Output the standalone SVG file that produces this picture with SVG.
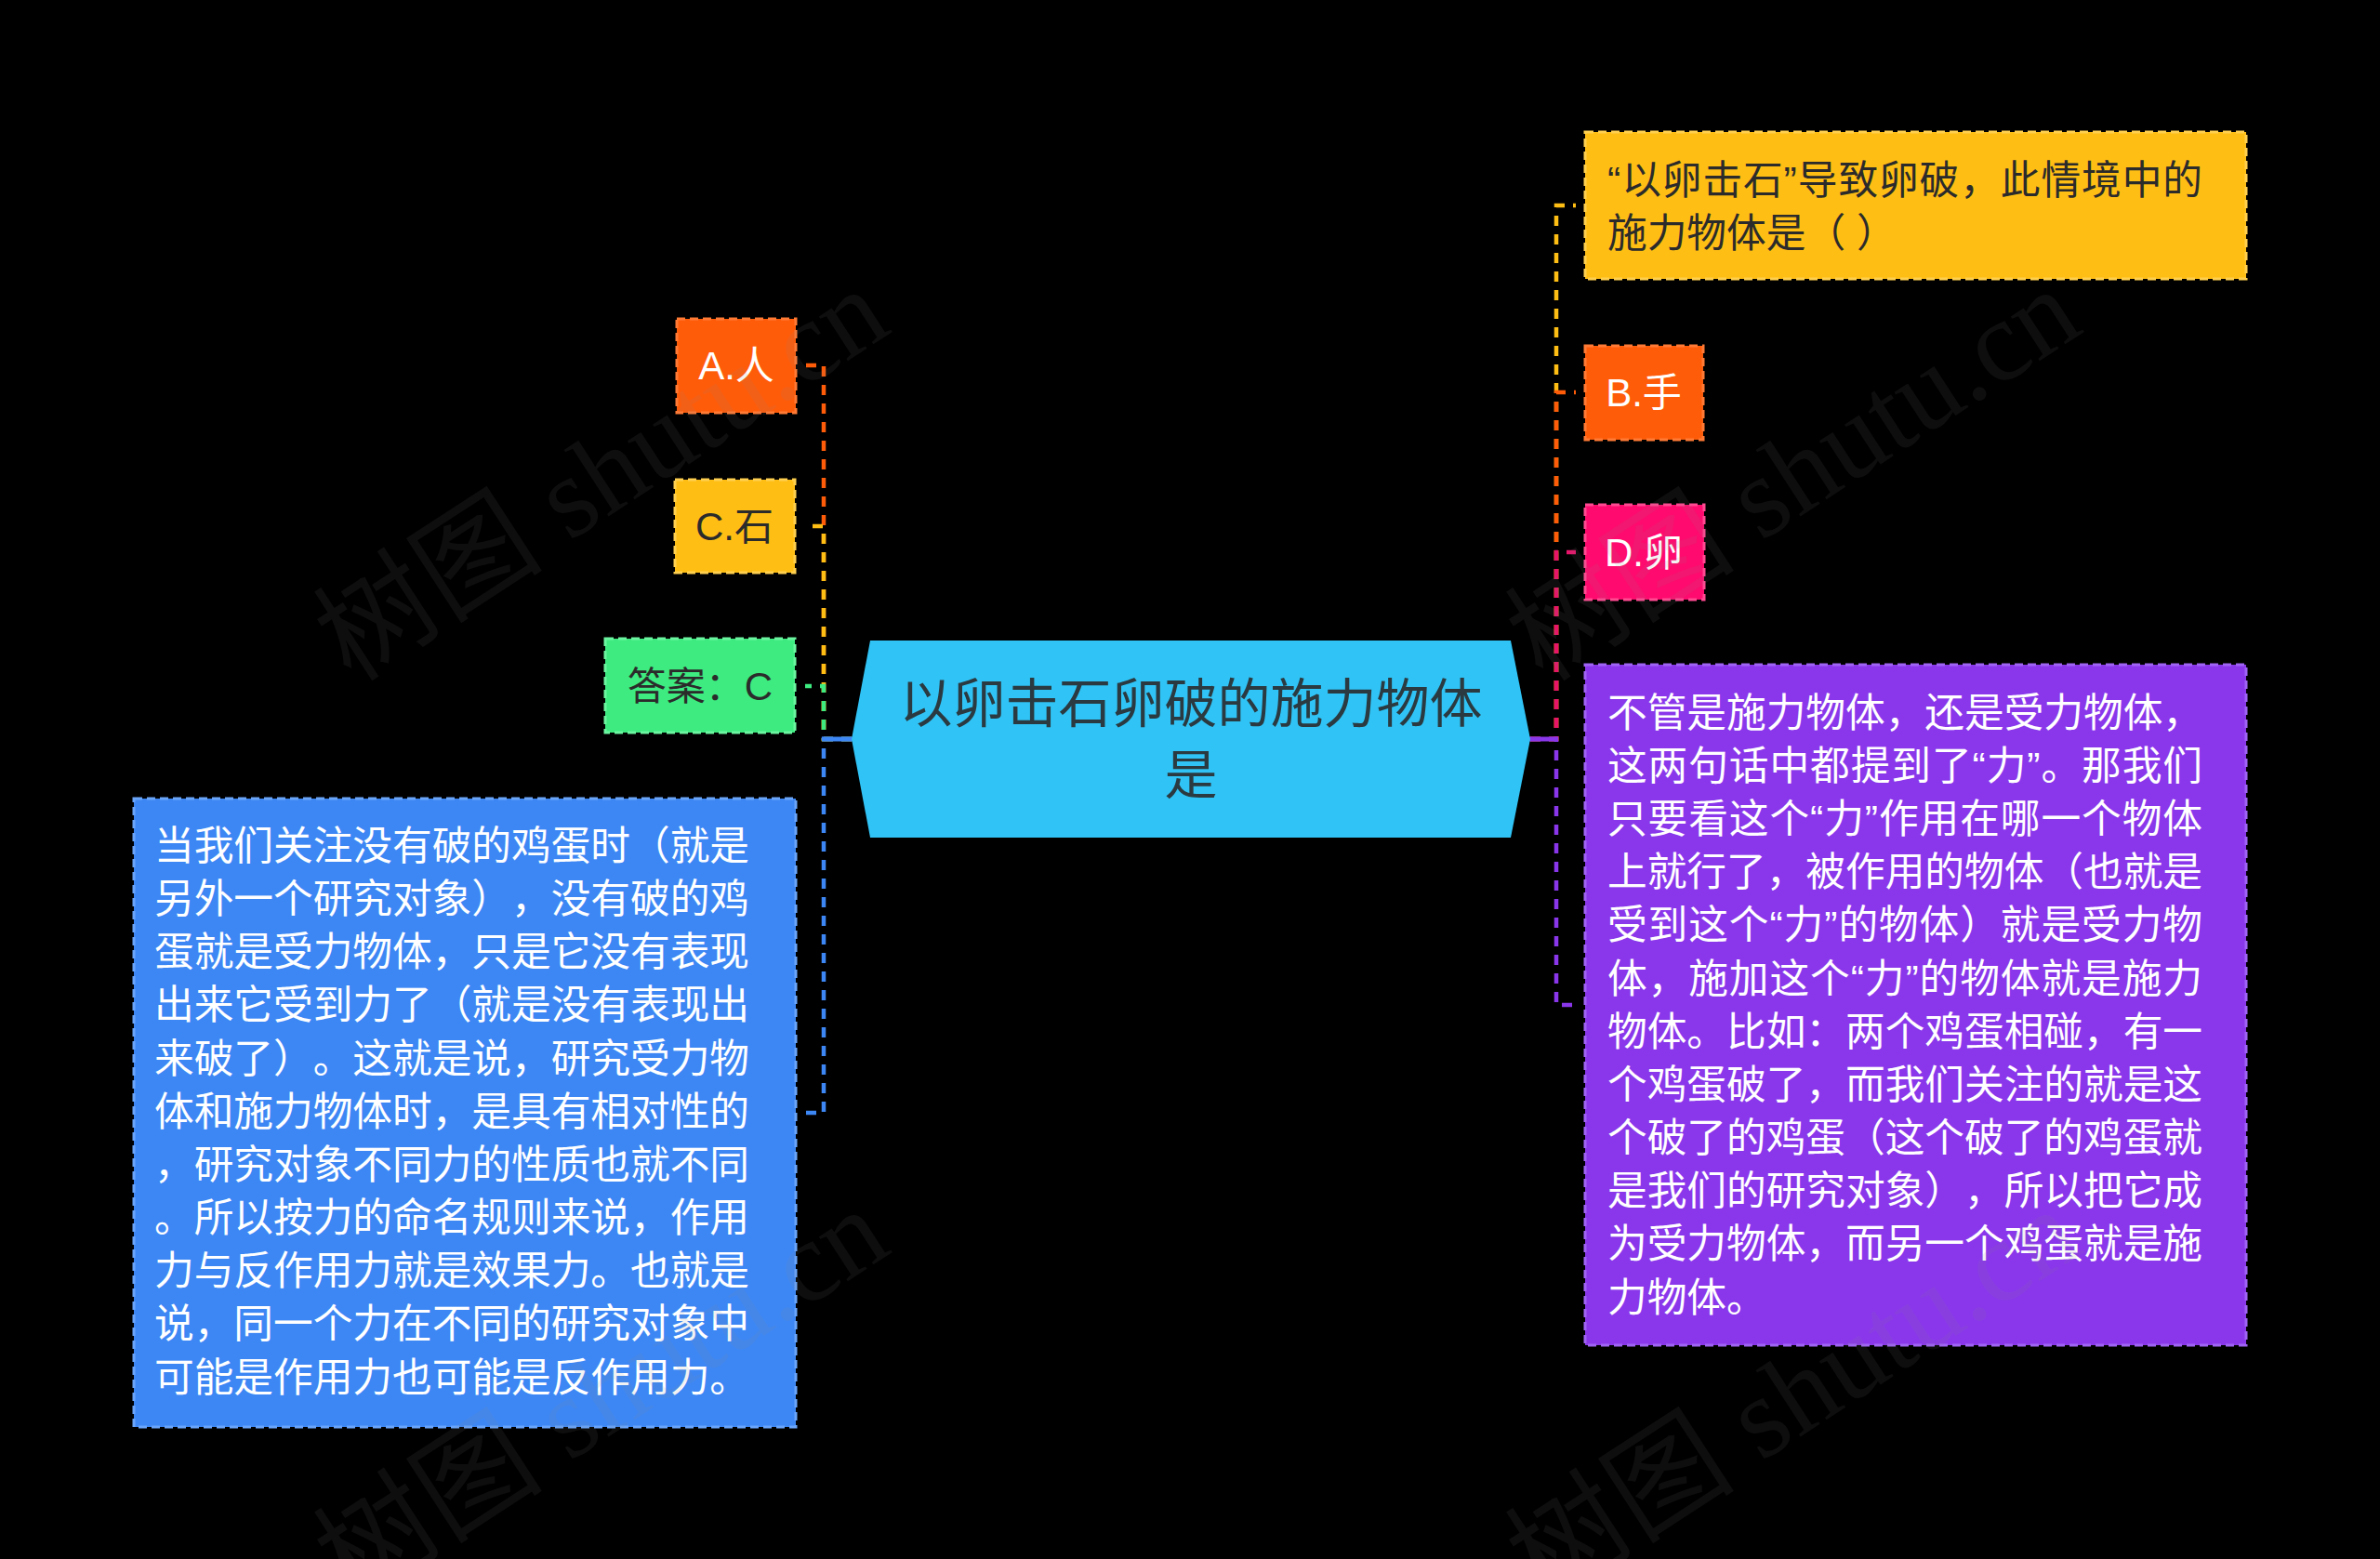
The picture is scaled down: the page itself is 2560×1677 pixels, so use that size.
<svg xmlns="http://www.w3.org/2000/svg" width="2560" height="1677" viewBox="0 0 2560 1677">
<style>
.cjk{font-family:"Liberation Sans","Noto Sans CJK SC",sans-serif;text-spacing-trim:space-all}
.conn{fill:none;stroke-width:4.5;stroke-dasharray:11 9}
.box{stroke-width:3;stroke-dasharray:9 5}
.lbl{font-size:42px;text-anchor:middle}
.para{font-size:42.7px}
.wm{font-family:"Liberation Serif","Noto Sans CJK SC",serif;font-size:124px;fill:#888;opacity:0.1}
</style>
<rect x="0" y="0" width="2560" height="1677" fill="#000"/>
<g id="connectors">
<path class="conn" stroke="#FF5C0A" d="M916 795 H886 V393 H866"/>
<path class="conn" stroke="#FFBE14" d="M916 795 H886 V566 H866"/>
<path class="conn" stroke="#3DEB80" d="M916 795 H886 V738 H866"/>
<path class="conn" stroke="#3D87F5" d="M916 795 H886 V1197 H866"/>
<line x1="884" y1="795" x2="918" y2="795" stroke="#3D87F5" stroke-width="5"/>
<path class="conn" stroke="#FFBE14" d="M1646 795 H1674 V221 H1695"/>
<path class="conn" stroke="#FF5C0A" d="M1646 795 H1674 V422 H1695"/>
<path class="conn" stroke="#E8146A" d="M1646 795 H1674 V594 H1695"/>
<path class="conn" stroke="#8A37EB" d="M1646 795 H1674 V1081 H1695"/>
<line x1="1644" y1="795" x2="1676" y2="795" stroke="#8A37EB" stroke-width="5"/>
</g>
<g id="center">
<polygon points="916,795 936,689 1625,689 1646,795 1625,901 936,901" fill="#30C3F5"/>
<text class="cjk" x="1281" y="777" font-size="57" fill="#2A3A40" text-anchor="middle">以卵击石卵破的施力物体</text>
<text class="cjk" x="1281" y="854" font-size="57" fill="#2A3A40" text-anchor="middle">是</text>
</g>
<g id="node-a">
<rect class="box" x="728" y="343" width="128" height="101" fill="#FF5C0A" stroke="#FF7A35"/>
<text class="cjk lbl" x="792" y="408" fill="#fff">A.人</text>
</g>
<g id="node-c">
<rect class="box" x="726" y="516" width="129" height="100" fill="#FFBE14" stroke="#FFD050"/>
<text class="cjk lbl" x="790" y="581" fill="#2B2B2B">C.石</text>
</g>
<g id="node-answer">
<rect class="box" x="651" y="687" width="204" height="101" fill="#3DEB80" stroke="#6CF5A0"/>
<text class="cjk lbl" x="753" y="753" fill="#2B2B2B">答案：C</text>
</g>
<g id="node-left-text">
<rect class="box" x="144" y="859" width="712" height="676" fill="#3D87F5" stroke="#6AA5FA"/>
<text class="cjk para" fill="#fff">
<tspan x="166" y="925" textLength="640" lengthAdjust="spacing">当我们关注没有破的鸡蛋时（就是</tspan>
<tspan x="166" y="982" textLength="640" lengthAdjust="spacing">另外一个研究对象），没有破的鸡</tspan>
<tspan x="166" y="1039" textLength="640" lengthAdjust="spacing">蛋就是受力物体，只是它没有表现</tspan>
<tspan x="166" y="1096" textLength="640" lengthAdjust="spacing">出来它受到力了（就是没有表现出</tspan>
<tspan x="166" y="1154" textLength="640" lengthAdjust="spacing">来破了）。这就是说，研究受力物</tspan>
<tspan x="166" y="1211" textLength="640" lengthAdjust="spacing">体和施力物体时，是具有相对性的</tspan>
<tspan x="166" y="1268" textLength="640" lengthAdjust="spacing">，研究对象不同力的性质也就不同</tspan>
<tspan x="166" y="1325" textLength="640" lengthAdjust="spacing">。所以按力的命名规则来说，作用</tspan>
<tspan x="166" y="1382" textLength="640" lengthAdjust="spacing">力与反作用力就是效果力。也就是</tspan>
<tspan x="166" y="1439" textLength="640" lengthAdjust="spacing">说，同一个力在不同的研究对象中</tspan>
<tspan x="166" y="1497" textLength="640" lengthAdjust="spacing">可能是作用力也可能是反作用力。</tspan>
</text>
</g>
<g id="node-question">
<rect class="box" x="1705" y="142" width="711" height="158" fill="#FFBE14" stroke="#FFD050"/>
<text class="cjk para" fill="#2B2B2B">
<tspan x="1729" y="209" textLength="640" lengthAdjust="spacing">“以卵击石”导致卵破，此情境中的</tspan>
<tspan x="1729" y="266">施力物体是（ ）</tspan>
</text>
</g>
<g id="node-b">
<rect class="box" x="1705" y="372" width="127" height="101" fill="#FF5C0A" stroke="#FF7A35"/>
<text class="cjk lbl" x="1768" y="437" fill="#fff">B.手</text>
</g>
<g id="node-d">
<rect class="box" x="1705" y="543" width="128" height="102" fill="#FF0A6E" stroke="#FF4A92"/>
<text class="cjk lbl" x="1768" y="609" fill="#fff">D.卵</text>
</g>
<g id="node-right-text">
<rect class="box" x="1705" y="715" width="711" height="732" fill="#8A37EB" stroke="#A064F5"/>
<text class="cjk para" fill="#fff">
<tspan x="1729" y="782" textLength="640" lengthAdjust="spacing">不管是施力物体，还是受力物体，</tspan>
<tspan x="1729" y="839" textLength="640" lengthAdjust="spacing">这两句话中都提到了“力”。那我们</tspan>
<tspan x="1729" y="896" textLength="640" lengthAdjust="spacing">只要看这个“力”作用在哪一个物体</tspan>
<tspan x="1729" y="953" textLength="640" lengthAdjust="spacing">上就行了，被作用的物体（也就是</tspan>
<tspan x="1729" y="1010" textLength="640" lengthAdjust="spacing">受到这个“力”的物体）就是受力物</tspan>
<tspan x="1729" y="1068" textLength="640" lengthAdjust="spacing">体，施加这个“力”的物体就是施力</tspan>
<tspan x="1729" y="1125" textLength="640" lengthAdjust="spacing">物体。比如：两个鸡蛋相碰，有一</tspan>
<tspan x="1729" y="1182" textLength="640" lengthAdjust="spacing">个鸡蛋破了，而我们关注的就是这</tspan>
<tspan x="1729" y="1239" textLength="640" lengthAdjust="spacing">个破了的鸡蛋（这个破了的鸡蛋就</tspan>
<tspan x="1729" y="1296" textLength="640" lengthAdjust="spacing">是我们的研究对象），所以把它成</tspan>
<tspan x="1729" y="1353" textLength="640" lengthAdjust="spacing">为受力物体，而另一个鸡蛋就是施</tspan>
<tspan x="1729" y="1411">力物体。</tspan>
</text>
</g>
<g id="watermarks">
<text class="wm" transform="translate(378 735) rotate(-33)">树图 shutu.cn</text>
<text class="wm" transform="translate(1660 735) rotate(-33)">树图 shutu.cn</text>
<text class="wm" transform="translate(378 1725) rotate(-33)">树图 shutu.cn</text>
<text class="wm" transform="translate(1660 1725) rotate(-33)">树图 shutu.cn</text>
</g>
</svg>
